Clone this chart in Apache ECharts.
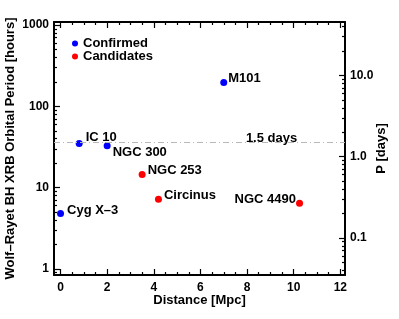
<!DOCTYPE html>
<html><head><meta charset="utf-8">
<script src="https://cdn.jsdelivr.net/npm/echarts@6/dist/echarts.min.js"></script>
<style>html,body{margin:0;padding:0;background:#fff}#c{width:399px;height:319px}</style>
</head><body><div id="c"></div>
<script>
// ---- data ----
const confirmedNames = ['Cyg X\u20133', 'IC 10', 'NGC 300', 'M101'];
const confirmedDist = [0.0, 0.8, 2.0, 7.0];
const confirmedPeriod = [4.8, 34.9, 32.8, 196];
const candidateNames = ['NGC 253', 'Circinus', 'NGC 4490'];
const candidateDist = [3.5, 4.2, 10.25];
const candidatePeriod = [14.5, 7.2, 6.4];
const xTickLabels = [0, 2, 4, 6, 8, 10, 12];
const yTickLabels = [1, 10, 100, 1000];
const daysTickLabels = [0.1, 1, 10];
const refPeriodHours = 36; // 1.5 days
const refLabel = '1.5 days';

// ---- layout / style (not data) ----
const xMin = -0.28, xMax = 12.2, yMin = 0.84, yMax = 1090;
const refLabelX = 9.05;
const labelLayout = {
  'Cyg X\u20133': {pos: 'right', off: [0, -3], dist: 3},
  'IC 10': {pos: 'right', off: [0, -6], dist: 3},
  'NGC 300': {pos: 'right', off: [0, 7], dist: 2},
  'M101': {pos: 'right', off: [0, -4], dist: 1},
  'NGC 253': {pos: 'right', off: [0, -4], dist: 2},
  'Circinus': {pos: 'right', off: [0, -4], dist: 2},
  'NGC 4490': {pos: 'left', off: [0, -4], dist: 0}
};
const FONT = 'Liberation Sans, Arial, Helvetica, sans-serif';

function minorLin(lo, hi, step, majors) {
  const out = [];
  for (let v = Math.ceil(lo / step) * step; v <= hi + 1e-9; v += step) {
    const r = Math.round(v * 1000) / 1000;
    if (!majors.some(m => Math.abs(m - r) < 1e-9)) out.push(r);
  }
  return out;
}
function minorLog(lo, hi) {
  const out = [];
  for (let e = -3; e <= 4; e++) {
    for (let k = 2; k <= 9; k++) {
      const v = k * Math.pow(10, e);
      if (v >= lo && v <= hi) out.push(v);
    }
  }
  return out;
}
function majorLog(lo, hi) {
  const out = [];
  for (let e = -3; e <= 4; e++) { const v = Math.pow(10, e); if (v >= lo && v <= hi) out.push(v); }
  return out;
}

const xMinors = minorLin(xMin, xMax, 0.5, xTickLabels);
const yMajors = majorLog(yMin, yMax);
const yMinors = minorLog(yMin, yMax);
const dMin = yMin / 24, dMax = yMax / 24;
const dMajors = majorLog(dMin, dMax);
const dMinors = minorLog(dMin, dMax);

const axisLineStyle = {color: '#000', width: 2};

function xAx(position, ticks, len, withLabels, withLine) {
  return {
    type: 'value', min: xMin, max: xMax, position: position,
    axisLine: {show: withLine, onZero: false, lineStyle: axisLineStyle},
    axisTick: {show: true, inside: true, length: len, customValues: ticks, lineStyle: {color: '#000', width: 1.2}},
    axisLabel: withLabels ? {show: true, customValues: xTickLabels, margin: 7, color: '#000', fontSize: 12, fontWeight: 'bold', fontFamily: FONT} : {show: false},
    splitLine: {show: false},
    name: withLabels ? 'Distance [Mpc]' : '',
    nameLocation: 'middle', nameGap: 19, nameMoveOverlap: false,
    nameTextStyle: {color: '#000', fontSize: 13, fontWeight: 'bold', fontFamily: FONT}
  };
}
function yAx(position, min, max, ticks, len, labels, withLine, name, nameGap, fmt) {
  return {
    type: 'log', logBase: 10, min: min, max: max, position: position,
    axisLine: {show: withLine, onZero: false, lineStyle: axisLineStyle},
    axisTick: {show: true, inside: true, length: len, customValues: ticks, lineStyle: {color: '#000', width: 1.2}},
    axisLabel: labels ? {show: true, customValues: labels, margin: 5, color: '#000', fontSize: 12, fontWeight: 'bold', fontFamily: FONT, formatter: fmt} : {show: false},
    splitLine: {show: false},
    name: name || '', nameLocation: 'middle', nameGap: nameGap || 0, nameRotate: 90, nameMoveOverlap: false,
    nameTextStyle: {color: '#000', fontSize: 13, fontWeight: 'bold', fontFamily: FONT}
  };
}

function buildData(names, xs, ys) {
  return names.map((n, i) => {
    const L = labelLayout[n] || {pos: 'right', off: [0, 0], dist: 3};
    return {
      name: n, value: [xs[i], ys[i]],
      label: {show: true, position: L.pos, offset: L.off, distance: L.dist, formatter: n,
        color: '#000', opacity: 1, fontSize: 13, fontWeight: 'bold', fontFamily: FONT}
    };
  });
}

const chart = echarts.init(document.getElementById('c'), null, {renderer: 'canvas'});
chart.setOption({
  animation: false,
  backgroundColor: '#fff',
  textStyle: {fontFamily: FONT},
  grid: {left: 54, right: 54, top: 22, bottom: 44, containLabel: false, outerBoundsMode: 'none'},
  legend: {
    orient: 'vertical', left: 67, top: 32, itemWidth: 6, itemHeight: 6, itemGap: 0, icon: 'circle',
    textStyle: {color: '#000', fontSize: 13, fontWeight: 'bold', fontFamily: FONT, lineHeight: 13, padding: [0, 0, 0, 0]},
    data: ['Confirmed', 'Candidates']
  },
  xAxis: [
    xAx('bottom', xTickLabels, 6, true, true),
    xAx('bottom', xMinors, 3, false, false),
    xAx('top', xTickLabels, 6, false, true),
    xAx('top', xMinors, 3, false, false)
  ],
  yAxis: [
    yAx('left', yMin, yMax, yMajors, 6, yTickLabels, true, 'Wolf\u2013Rayet BH XRB Orbital Period [hours]', 37, v => String(Math.round(v))),
    yAx('left', yMin, yMax, yMinors, 3, null, false),
    yAx('right', dMin, dMax, dMajors, 6, daysTickLabels, true, 'P [days]', 30, v => Number(v).toFixed(1)),
    yAx('right', dMin, dMax, dMinors, 3, null, false)
  ],
  series: [
    {
      name: 'Confirmed', type: 'scatter', xAxisIndex: 0, yAxisIndex: 0,
      symbol: 'circle', symbolSize: 7, itemStyle: {color: '#0000ff', opacity: 1},
      data: buildData(confirmedNames, confirmedDist, confirmedPeriod),
      markLine: {
        silent: true, symbol: 'none',
        lineStyle: {color: '#b8b8b8', width: 1, type: [6, 3, 1, 3]},
        label: {show: false},
        data: [{yAxis: refPeriodHours}]
      },
      markPoint: {
        silent: true, symbol: 'circle', symbolSize: 0,
        data: [{coord: [refLabelX, refPeriodHours], value: refLabel}],
        label: {show: true, position: 'top', distance: 2, offset: [0, 5], formatter: refLabel,
          color: '#000', fontSize: 13, fontWeight: 'bold', fontFamily: FONT}
      },
      z: 3
    },
    {
      name: 'Candidates', type: 'scatter', xAxisIndex: 0, yAxisIndex: 0,
      symbol: 'circle', symbolSize: 7, itemStyle: {color: '#ff0000', opacity: 1},
      data: buildData(candidateNames, candidateDist, candidatePeriod),
      z: 3
    }
  ]
});
</script></body></html>
